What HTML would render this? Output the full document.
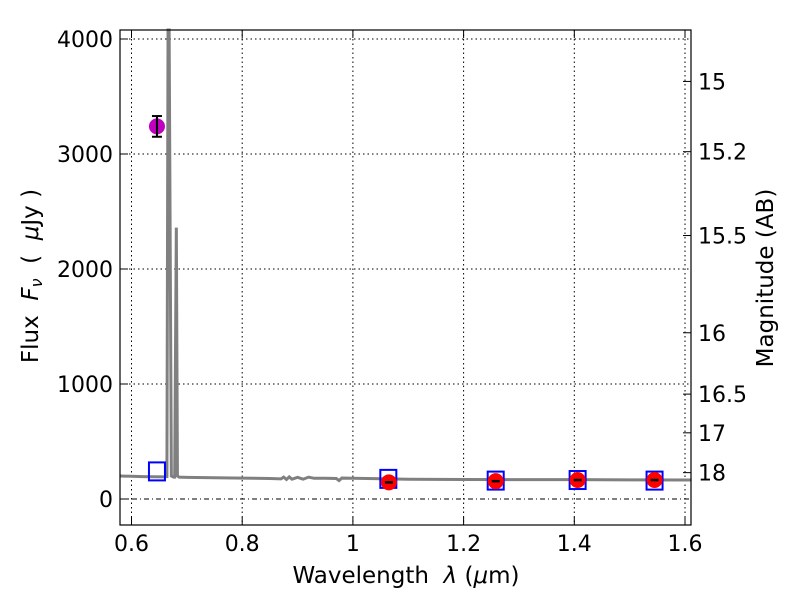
<!DOCTYPE html>
<html><head><meta charset="utf-8"><style>
body{margin:0;background:#fff;}
svg text{font-family:"DejaVu Sans","Liberation Sans",sans-serif;fill:#000;}
</style></head><body>
<svg id="chart" width="800" height="600" viewBox="0 0 800 600" xmlns="http://www.w3.org/2000/svg">
<rect width="800" height="600" fill="#fff"/>
<g id="grid"></g>
<g id="marks"></g>
<rect x="120" y="30" width="571" height="495" fill="none" stroke="#000" stroke-width="1.2"/>
<g id="axes"></g>
<text x="406" y="583" font-size="23" text-anchor="middle" xml:space="preserve">Wavelength  <tspan font-style="italic">λ</tspan> (<tspan font-style="italic">μ</tspan>m)</text>
<text transform="translate(38,276) rotate(-90)" font-size="23" text-anchor="middle" xml:space="preserve">Flux  <tspan font-style="italic">F<tspan font-size="16" dy="4">ν</tspan></tspan><tspan dy="-4">  (  </tspan><tspan font-style="italic">μ</tspan>Jy )</text>
<text transform="translate(773,278) rotate(-90)" font-size="23" text-anchor="middle">Magnitude (AB)</text>
</svg>
<script>
const xTicks=[0.6,0.8,1.0,1.2,1.4,1.6];
const xTickLabels=["0.6","0.8","1","1.2","1.4","1.6"];
const yTicks=[0,1000,2000,3000,4000];
const magTicks=[15,15.2,15.5,16,16.5,17,18];
const magTickLabels=["15","15.2","15.5","16","16.5","17","18"];
const specLam=[0.58,0.62,0.66,0.664,0.666,0.668,0.672,0.676,0.678,0.681,0.683,0.686,0.70,0.75,0.80,0.85,0.87,0.875,0.88,0.885,0.89,0.90,0.91,0.92,0.93,0.95,0.97,0.975,0.98,1.0,1.1,1.2,1.3,1.4,1.5,1.612];
const specFlux=[200,195,192,195,4100,4100,200,190,190,2360,200,190,188,185,182,178,175,190,170,192,172,188,172,190,180,180,178,160,182,180,172,170,168,168,166,165];
const photLam=[1.065,1.258,1.406,1.545];
const photFlux=[145,155,165,165];
const haLam=[0.646];const haFlux=[3240];const haErr=[90];
const modelLam=[0.646,1.064,1.258,1.406,1.545];
const modelFlux=[240,175,160,165,160];
const NS="http://www.w3.org/2000/svg";
const X=v=>131.5+(v-0.6)*553.5;
const Y=v=>499-v*0.115;
const magY=m=>Y(3631e6*Math.pow(10,-m/2.5));
function mk(t,a,p){const e=document.createElementNS(NS,t);for(const k in a)e.setAttribute(k,a[k]);document.getElementById(p).appendChild(e);return e;}
xTicks.forEach((v,i)=>{
 const l=mk('line',{x1:X(v),x2:X(v),y1:30,y2:525,stroke:'#000','stroke-dasharray':'1.5,3','stroke-width':1},'grid');
 
 mk('line',{x1:X(v),x2:X(v),y1:525,y2:517,stroke:'#000'},'axes');
 mk('line',{x1:X(v),x2:X(v),y1:30,y2:38,stroke:'#000'},'axes');
 const t=mk('text',{x:X(v),y:551,'font-size':22,'text-anchor':'middle'},'axes');t.textContent=xTickLabels[i];
 
});
yTicks.forEach(v=>{
 const l=mk('line',{x1:120,x2:691,y1:Y(v),y2:Y(v),stroke:'#000','stroke-dasharray':v===0?'5,3,1,3':'1.5,3','stroke-width':1},'grid');
 
 mk('line',{x1:120,x2:128,y1:Y(v),y2:Y(v),stroke:'#000'},'axes');
 const t=mk('text',{x:113,y:Y(v)+8,'font-size':22,'text-anchor':'end'},'axes');t.textContent=String(v);
 
});
magTicks.forEach((m,i)=>{
 const y=magY(m);
 mk('line',{x1:683,x2:691,y1:y,y2:y,stroke:'#000'},'axes');
 const t=mk('text',{x:698,y:y+8,'font-size':22},'axes');t.textContent=magTickLabels[i];
 
});
const sp=mk('polyline',{points:specLam.map((l,i)=>X(l)+','+Math.max(30,Y(specFlux[i]))).join(' '),fill:'none',stroke:'#808080','stroke-width':3},'marks');

haLam.forEach((l,i)=>{
 const x=X(l),y1=Y(haFlux[i]+haErr[i]),y2=Y(haFlux[i]-haErr[i]);
 const c=mk('circle',{cx:x,cy:Y(haFlux[i]),r:8,fill:'#bf00bf'},'marks');
 
 mk('line',{x1:x,x2:x,y1:y1,y2:y2,stroke:'#000','stroke-width':2},'marks');
 mk('line',{x1:x-5,x2:x+5,y1:y1,y2:y1,stroke:'#000','stroke-width':2},'marks');
 mk('line',{x1:x-5,x2:x+5,y1:y2,y2:y2,stroke:'#000','stroke-width':2},'marks');
});
modelLam.forEach((l,i)=>{
 const r=mk('rect',{x:X(l)-8,y:Y(modelFlux[i])-9,width:16,height:18,fill:'none',stroke:'#0000ff','stroke-width':2},'marks');
 
});
photLam.forEach((l,i)=>{
 const x=X(l),y=Y(photFlux[i]);
 const c=mk('circle',{cx:x,cy:y,r:8,fill:'#ff0000'},'marks');
 
 mk('line',{x1:x-4,x2:x+4,y1:y,y2:y,stroke:'#000','stroke-width':2.5},'marks');
});
</script>
</body></html>
